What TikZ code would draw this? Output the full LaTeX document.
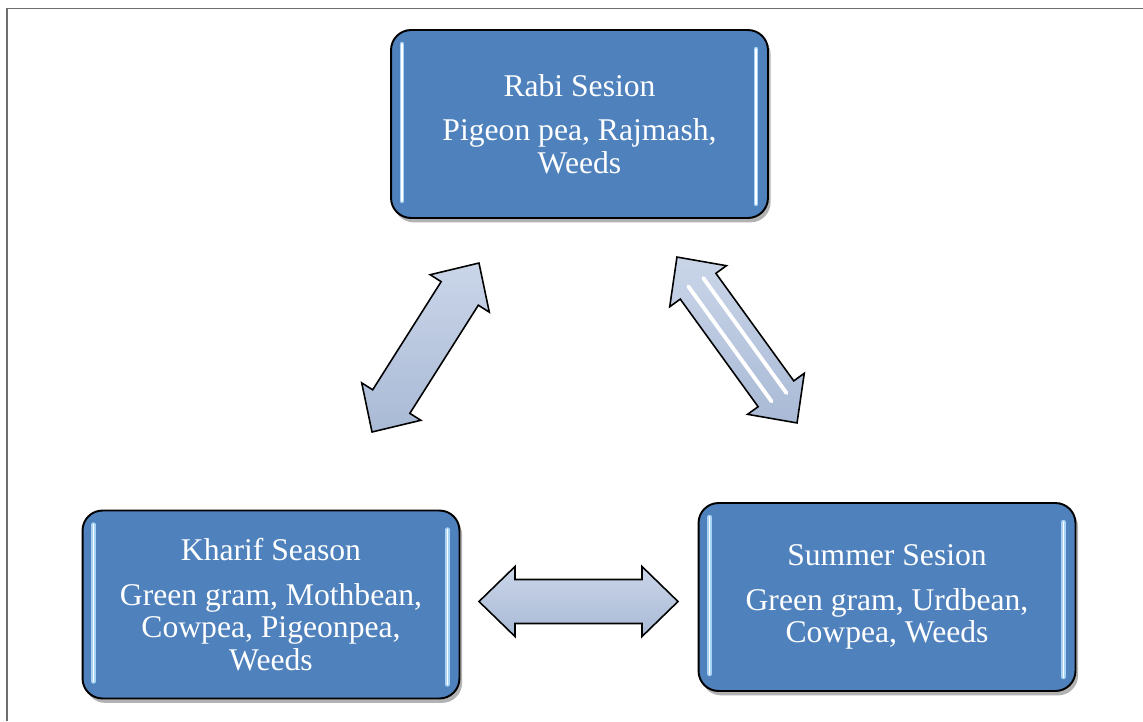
\documentclass[tikz,border=0pt]{standalone}
\usepackage{fontspec}
\setmainfont{Liberation Serif}
\usetikzlibrary{calc,shadows}
\definecolor{boxblue}{HTML}{4F81BD}
\definecolor{arrowlight}{HTML}{CAD5E8}
\definecolor{arrowdark}{HTML}{A9BAD6}
\definecolor{glow}{HTML}{A9D3F5}
\definecolor{framegray}{HTML}{6E6E6E}
\newcommand\dblarr[5]{%
  \begin{scope}[shift={(#1,#2)},rotate=#3]
    \coordinate (#5) at (0,0);
    \draw[dblarrow] (-#4,0) -- (-#4+36,35) -- (-#4+36,22) -- (#4-36,22) -- (#4-36,35)
      -- (#4,0) -- (#4-36,-35) -- (#4-36,-22) -- (-#4+36,-22) -- (-#4+36,-35) -- cycle;
  \end{scope}}
\begin{document}
\begin{tikzpicture}[x=0.02cm,y=-0.02cm,
  season/.style={draw=black, line width=1.1pt, fill=boxblue, rounded corners=0.4cm,
    minimum width=7.54cm, minimum height=3.76cm, text=white, align=center,
    font=\fontsize{18}{18.5}\selectfont,
    drop shadow={shadow xshift=1.5pt, shadow yshift=-2.5pt, opacity=0.3, fill=black}},
  dblarrow/.style={draw=black, line width=0.9pt, line join=miter,
    top color=arrowlight, bottom color=arrowdark},
  edgeglow/.style={glow, line width=2.6pt, line cap=round},
  edgecore/.style={white, line width=0.9pt, line cap=round},
  stripe/.style={white, line width=2.2pt, line cap=round}]
\useasboundingbox (0,0) rectangle (1143,721);
% frame
\draw[framegray, line width=1.1pt] (7,721) -- (7,8.5) -- (1143,8.5);
% season boxes
\node[season] (rabi) at (579.5,124) {Rabi Sesion\\[7pt]Pigeon pea, Rajmash,\\Weeds};
\node[season] (kharif) at (271,604.5) {Kharif Season\\[7pt]Green gram, Mothbean,\\Cowpea, Pigeonpea,\\Weeds};
\node[season] (summer) at (887,597) {Summer Sesion\\[7pt]Green gram, Urdbean,\\Cowpea, Weeds};
% inner edge highlights
\foreach \b in {rabi,kharif,summer}{
  \draw[edgeglow] ($(\b.north west)+(12,15)$) -- ($(\b.south west)+(12,-18)$);
  \draw[edgecore] ($(\b.north west)+(12,15)$) -- ($(\b.south west)+(12,-18)$);
  \draw[edgeglow] ($(\b.north east)+(-13,20)$) -- ($(\b.south east)+(-13,-15)$);
  \draw[edgecore] ($(\b.north east)+(-13,20)$) -- ($(\b.south east)+(-13,-15)$);
}
% arrows
\dblarr{425.5}{347.5}{57.66}{100}{kr}
\dblarr{737}{340}{-54.1}{102.4}{rs}
\dblarr{578.5}{601.5}{0}{99.5}{ks}
% stripes on right arrow
\begin{scope}[shift={(rs)},rotate=-54.1]
  \draw[stripe] (-72,8) -- (70,8);
  \draw[stripe] (-70,-9) -- (72,-9);
\end{scope}
\end{tikzpicture}
\end{document}
